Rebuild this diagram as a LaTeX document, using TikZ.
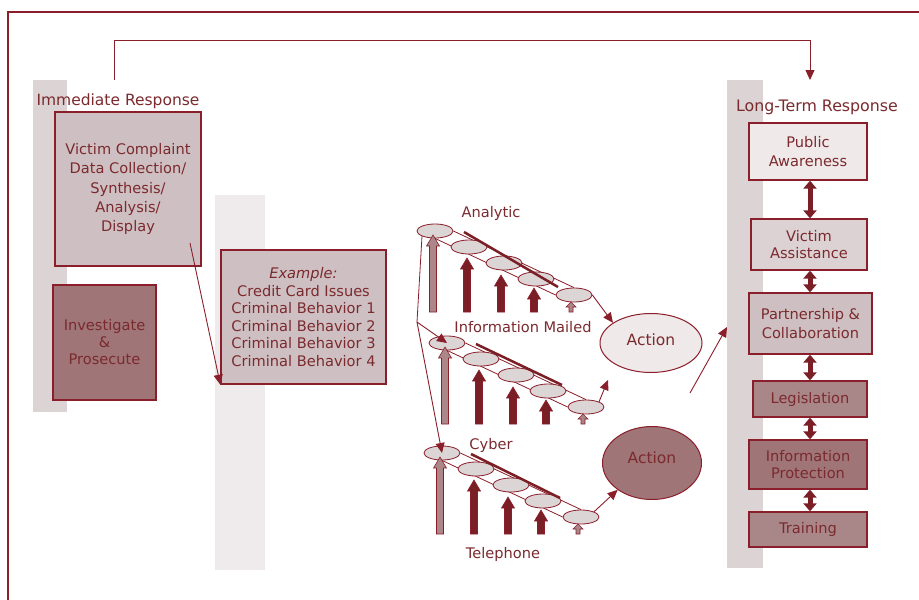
\documentclass[tikz,border=0pt]{standalone}
\usepackage{fontspec}
\setmainfont{DejaVu Sans}
\usetikzlibrary{arrows.meta,shapes.geometric,calc}
\pgfdeclarelayer{bg}
\pgfsetlayers{bg,main}
\definecolor{dred}{HTML}{8B1E2B}
\definecolor{ardk}{HTML}{7A1F25}
\definecolor{txtc}{HTML}{7B2A2E}
\definecolor{bandc}{HTML}{DCD3D5}
\definecolor{bandm}{HTML}{EFEBEC}
\definecolor{fvlight}{HTML}{EFE9EA}
\definecolor{flight}{HTML}{DCD2D4}
\definecolor{fmid}{HTML}{CEC0C2}
\definecolor{fdark}{HTML}{A98688}
\definecolor{fdarker}{HTML}{9F7577}
\definecolor{elf}{HTML}{DCD5D6}
\definecolor{arlight}{HTML}{AC8789}
\newcommand\barr[5]{% x, ybottom, ytip, fill, shaft half width
  \filldraw[draw=dred, fill=#4, line width=0.6pt] ({#1-#5},#2) -- ({#1-#5},{#3+11}) -- ({#1-6.5},{#3+11}) -- (#1,#3) -- ({#1+6.5},{#3+11}) -- ({#1+#5},{#3+11}) -- ({#1+#5},#2) -- cycle;}
\newcommand\sarr[2]{% x, ybottom
  \filldraw[draw=dred, fill=fdark, line width=0.6pt] ({#1-2},#2) -- ({#1-2},{#2-5}) -- ({#1-5},{#2-5}) -- (#1,{#2-10}) -- ({#1+5},{#2-5}) -- ({#1+2},{#2-5}) -- ({#1+2},#2) -- cycle;}
\newcommand\mkchain[5]{% prefix, x0, y0, band end dx, band end dy
  \node[el] (#1a) at (#2,#3) {};
  \node[el] (#1b) at ({#2+34},{#3+16}) {};
  \node[el] (#1c) at ({#2+69},{#3+32}) {};
  \node[el] (#1d) at ({#2+101},{#3+48}) {};
  \node[el] (#1e) at ({#2+139},{#3+64}) {};
  \begin{pgfonlayer}{bg}
    \draw[thinln] (#1a.east) -- (#1e.north);
    \draw[thinln] (#1a.south) -- (#1e.west);
  \end{pgfonlayer}
  \draw[line width=2.5pt, draw=ardk] ({#2+29},{#3+1}) -- ({#2+#4},{#3+#5});
  \barr{#2-2}{#3+81}{#3+4}{arlight}{3.5}
  \barr{#2+32}{#3+81}{#3+27}{ardk}{3.5}
  \barr{#2+66}{#3+81}{#3+44}{ardk}{3.5}
  \barr{#2+99}{#3+81}{#3+57}{ardk}{3.5}
  \sarr{#2+136}{#3+81}
}
\begin{document}
\begin{tikzpicture}[x=1pt, y=-1pt,
  font=\fontsize{14.6}{18}\selectfont,
  box/.style={draw=dred, line width=1.3pt, text=txtc, align=center, inner sep=0pt},
  el/.style={ellipse, draw=dred, line width=0.8pt, fill=elf, minimum width=36pt, minimum height=14pt, inner sep=0pt},
  thinln/.style={draw=dred, line width=0.8pt},
  conn/.style={draw=dred, line width=0.9pt, -{Triangle[length=10pt,width=9pt]}},
  dbl/.style={draw=ardk, line width=5pt, {Triangle[length=8pt,width=13pt]}-{Triangle[length=8pt,width=13pt]}},
  lbl/.style={text=txtc, inner sep=0pt}]
\useasboundingbox (0,0) rectangle (919,600);
% background and bands
\begin{pgfonlayer}{bg}
\fill[white] (0,0) rectangle (919,600);
\fill[bandc] (33,80) rectangle (67,412);
\fill[bandm] (215,195) rectangle (265,570);
\fill[bandc] (727,80) rectangle (763,568);
\end{pgfonlayer}
% frame
\draw[dred, line width=2pt] (8,600) -- (8,12) -- (919,12);
% left column
\node[lbl, font=\fontsize{15.5}{18}\selectfont] (imr) at (118,101) {Immediate Response};
\node[box, fill=fmid, minimum width=146pt, minimum height=154pt, font=\fontsize{14.6}{19.3}\selectfont] (vc) at (128,189)
  {Victim Complaint\\Data Collection/\\Synthesis/\\Analysis/\\Display};
\node[box, fill=fdarker, minimum width=103pt, minimum height=115pt, font=\fontsize{14.6}{17}\selectfont] (ip1) at (104.5,342.5)
  {Investigate\\\&\\Prosecute};
\node[box, fill=fmid, minimum width=165pt, minimum height=134pt, font=\fontsize{14.6}{17.6}\selectfont] (ex) at (303.5,317)
  {\textit{Example:}\\Credit Card Issues\\Criminal Behavior 1\\Criminal Behavior 2\\Criminal Behavior 3\\Criminal Behavior 4};
\coordinate (s1) at (190,243);
\draw[conn] (s1) -- (ex.south west);
% feedback arrow
\coordinate (fb) at (114,80);
\coordinate (lt) at (810,80);
\draw[conn] (fb) -- ++(0,-40) -| (lt);
% chains
\mkchain{A}{435}{231}{123}{56}
\mkchain{B}{447}{343}{115}{42}
\mkchain{C}{442}{453}{118}{45}
\node[lbl] (lan) at (491,213) {Analytic};
\node[lbl] (lim) at (523,327) {Information Mailed};
\node[lbl] (lcy) at (491,445) {Cyber};
\node[lbl] (lte) at (503,554) {Telephone};
% branch lines
\coordinate (br) at (417,322);
\draw[thinln] (Aa.south west) -- (br);
\draw[conn] (br) -- (Ba.center);
\draw[conn] (br) -- (Ca.center);
% action ellipses
\node[ellipse, draw=dred, line width=1pt, fill=fvlight, minimum width=102pt, minimum height=59pt, inner sep=0pt, text=txtc, font=\fontsize{15.5}{18}\selectfont] (act1) at (651,343) {\raisebox{6pt}{Action}};
\node[ellipse, draw=dred, line width=1pt, fill=fdarker, minimum width=99pt, minimum height=73pt, inner sep=0pt, text=txtc, font=\fontsize{15.5}{18}\selectfont] (act2) at (652,463) {\raisebox{11pt}{Action}};
\draw[conn] (Ae.east) -- (act1.152);
\coordinate (m2) at (608,380);
\draw[conn] (Be.north east) -- (m2);
\draw[conn] (Ce.north east) -- (act2.218);
\coordinate (lt1) at (690,393);
\coordinate (lt2) at (727,327);
\draw[conn] (lt1) -- (lt2);
% right column
\node[lbl, font=\fontsize{15.8}{18}\selectfont] (ltr) at (817,107) {Long-Term Response};
\node[box, fill=fvlight, minimum width=118pt, minimum height=57pt, font=\fontsize{14.6}{19}\selectfont] (pa) at (808,151.5) {Public\\Awareness};
\node[box, fill=flight, minimum width=116pt, minimum height=51pt, font=\fontsize{14.6}{17}\selectfont] (va) at (809,244.5) {Victim\\Assistance};
\node[box, fill=fmid, minimum width=123pt, minimum height=61pt, font=\fontsize{14.6}{19}\selectfont] (pc) at (810.5,323.5) {Partnership \&\\Collaboration};
\node[box, fill=fdark, minimum width=114pt, minimum height=36pt] (lg) at (810,399) {Legislation};
\node[box, fill=fdarker, minimum width=118pt, minimum height=49pt, font=\fontsize{14.6}{17}\selectfont] (ipr) at (808,464.5) {Information\\Protection};
\node[box, fill=fdark, minimum width=118pt, minimum height=35pt] (tr) at (808,529.5) {Training};
\coordinate (xr) at (810,0);
\draw[dbl] (pa.south -| xr) -- (va.north -| xr);
\draw[dbl] (va.south -| xr) -- (pc.north -| xr);
\draw[dbl] (pc.south -| xr) -- (lg.north -| xr);
\draw[dbl] (lg.south -| xr) -- (ipr.north -| xr);
\draw[dbl] (ipr.south -| xr) -- (tr.north -| xr);
\end{tikzpicture}
\end{document}
